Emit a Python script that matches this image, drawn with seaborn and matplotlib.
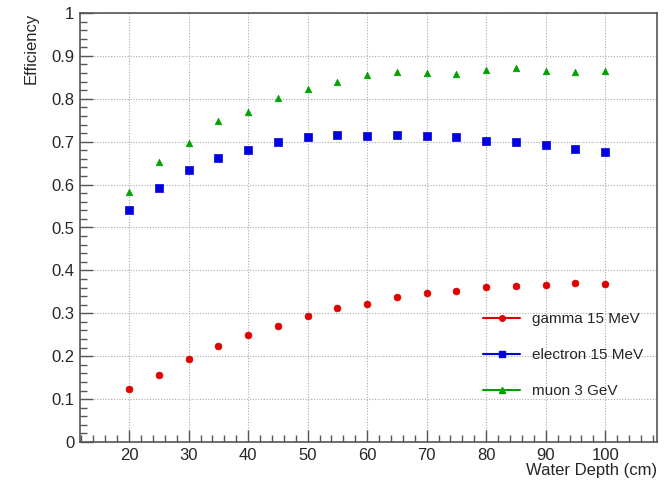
import numpy as np
import pandas as pd
import seaborn as sns
import matplotlib.pyplot as plt
from matplotlib.lines import Line2D
from matplotlib.ticker import MultipleLocator

# ---- data ----
depth = [20, 25, 30, 35, 40, 45, 50, 55, 60, 65, 70, 75, 80, 85, 90, 95, 100]
gamma_eff = [0.124, 0.157, 0.193, 0.223, 0.250, 0.270, 0.293, 0.312, 0.321, 0.337, 0.348,
             0.352, 0.361, 0.364, 0.366, 0.371, 0.368]
electron_eff = [0.541, 0.593, 0.633, 0.661, 0.681, 0.699, 0.710, 0.716, 0.714, 0.716, 0.714,
                0.710, 0.701, 0.700, 0.692, 0.683, 0.676]
muon_eff = [0.583, 0.653, 0.697, 0.748, 0.770, 0.802, 0.823, 0.838, 0.856, 0.863, 0.861,
            0.858, 0.868, 0.872, 0.865, 0.862, 0.864]
labels = ['gamma 15 MeV', 'electron 15 MeV', 'muon 3 GeV']

df = pd.concat([
    pd.DataFrame({'depth': depth, 'eff': gamma_eff, 'particle': labels[0]}),
    pd.DataFrame({'depth': depth, 'eff': electron_eff, 'particle': labels[1]}),
    pd.DataFrame({'depth': depth, 'eff': muon_eff, 'particle': labels[2]}),
])

colors = {labels[0]: '#e00000', labels[1]: '#0000e0', labels[2]: '#00a000'}
markers = {labels[0]: 'o', labels[1]: 's', labels[2]: '^'}
sizes = {labels[0]: 24, labels[1]: 30, labels[2]: 22}

sns.set_theme(style="white")
plt.rcParams['font.family'] = ['Liberation Sans', 'DejaVu Sans']

fig = plt.figure(figsize=(6.69, 4.86), dpi=100)
ax = fig.add_axes([80 / 669, 44 / 486, 577 / 669, 429 / 486])

for p in labels:
    sub = df[df['particle'] == p]
    sns.scatterplot(data=sub, x='depth', y='eff', ax=ax, color=colors[p],
                    marker=markers[p], s=sizes[p], edgecolor=colors[p],
                    linewidth=0.5, legend=False, zorder=3)

ax.set_xlim(11.75, 108.7)
ax.set_ylim(0, 1)
ax.xaxis.set_minor_locator(MultipleLocator(2))
ax.yaxis.set_minor_locator(MultipleLocator(0.02))
ax.set_xticks(np.arange(20, 101, 10))
ax.set_yticks(np.arange(0, 1.01, 0.1))
ax.set_yticklabels(['0'] + ['%.1f' % v for v in np.arange(0.1, 0.95, 0.1)] + ['1'])

ax.tick_params(axis='both', which='major', direction='in', length=9, width=1,
               color='#555555', labelsize=12, bottom=True, left=True,
               top=False, right=False)
ax.tick_params(axis='both', which='minor', direction='in', length=5, width=1,
               color='#555555', bottom=True, left=True, top=False, right=False)
ax.tick_params(axis='x', pad=4)
ax.tick_params(axis='y', pad=4)

ax.grid(True, which='major', linestyle=(0, (1, 1.5)), color='#aaaaaa', linewidth=0.8)
ax.set_axisbelow(True)
for s in ax.spines.values():
    s.set_color('#555555')
    s.set_linewidth(1.2)

ax.set_xlabel('Water Depth (cm)', fontsize=12, loc='right', labelpad=0)
ax.set_ylabel('Efficiency', fontsize=12, loc='top', labelpad=9)

handles = [Line2D([0], [0], color=colors[p], marker=markers[p], markersize=4,
                  linewidth=1.5) for p in labels]
ax.legend(handles, labels, loc='lower right', bbox_to_anchor=(1.0, 0.07),
          frameon=False, fontsize=11, handlelength=2.4, labelspacing=1.45,
          handletextpad=0.8)

fig.savefig('out.png', dpi=100)
